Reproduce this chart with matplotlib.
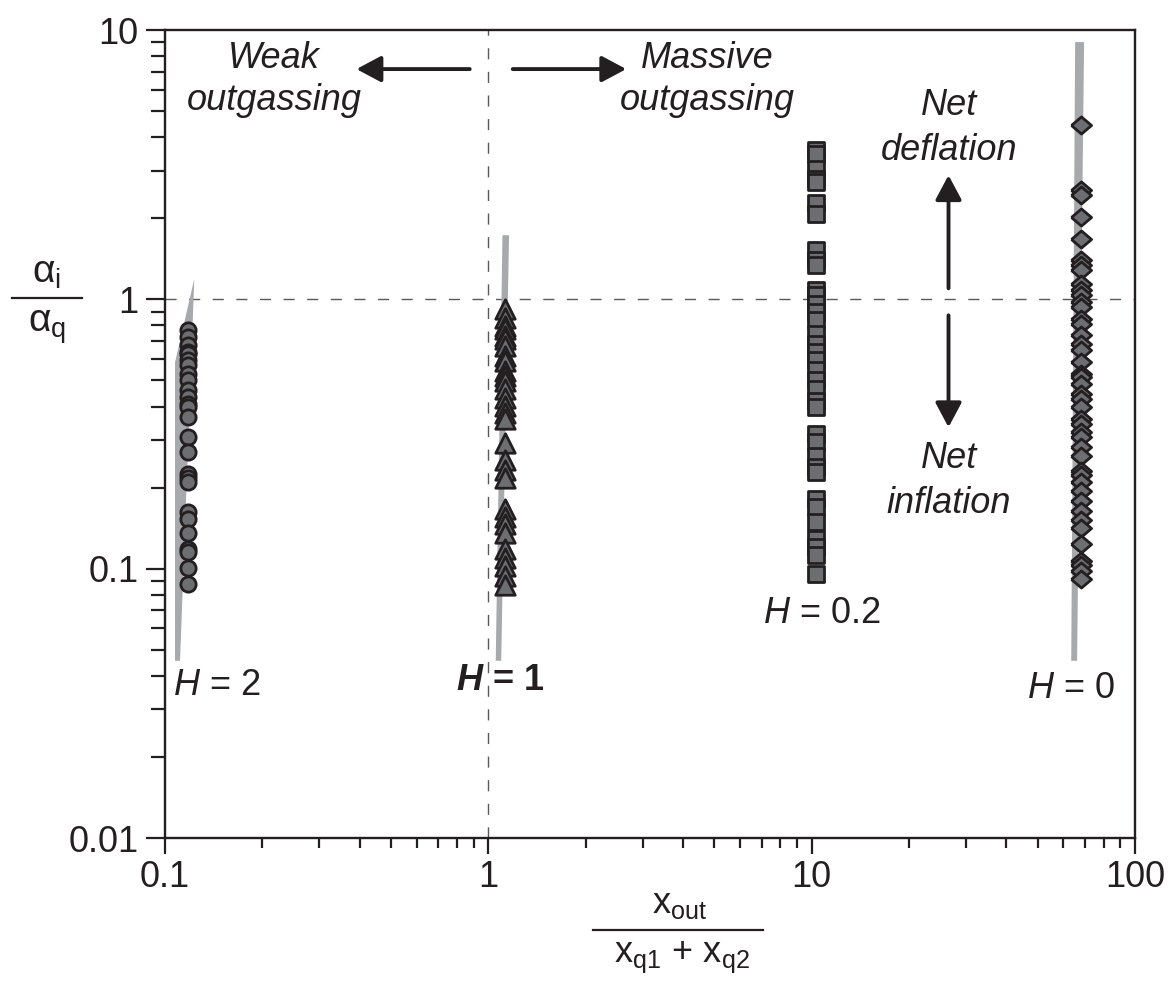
import numpy as np
import matplotlib
matplotlib.use('Agg')
import matplotlib.pyplot as plt
from matplotlib.lines import Line2D
from matplotlib.ticker import FixedLocator, FixedFormatter, LogLocator, NullFormatter

plt.rcParams['font.family'] = ['Liberation Sans', 'DejaVu Sans']
plt.rcParams['mathtext.fontset'] = 'custom'
plt.rcParams['mathtext.rm'] = 'Liberation Sans'
plt.rcParams['mathtext.it'] = 'Liberation Sans:italic'
plt.rcParams['mathtext.bf'] = 'Liberation Sans:bold:italic'

# ---------------- data ----------------
h2_x = 0.118
h2_y = [0.767, 0.724, 0.674, 0.637, 0.628, 0.593, 0.568, 0.530, 0.500, 0.459,
        0.433, 0.409, 0.398, 0.365, 0.308, 0.271, 0.225, 0.218, 0.209, 0.162,
        0.153, 0.136, 0.118, 0.115, 0.101, 0.088]

h1_x = 1.13
h1_y = [0.918, 0.855, 0.796, 0.773, 0.731, 0.710, 0.670, 0.616, 0.590, 0.541,
        0.519, 0.497, 0.463, 0.431, 0.401, 0.379, 0.358, 0.293, 0.254, 0.233,
        0.217, 0.166, 0.156, 0.146, 0.136, 0.118, 0.110, 0.102, 0.094, 0.087]

h02_x = 10.3
h02_y = [3.58, 3.46, 3.06, 2.79, 2.73, 2.27, 2.08, 1.52, 1.40, 1.34,
         1.080, 1.035, 0.964, 0.897, 0.835, 0.746, 0.684, 0.637, 0.593, 0.545,
         0.500, 0.466, 0.421, 0.398, 0.317, 0.295, 0.263, 0.238, 0.228,
         0.182, 0.169, 0.149, 0.129, 0.120, 0.112, 0.0955]

h0_x = 68.0
h0_y = [4.43, 2.54, 2.44, 2.02, 1.68, 1.40, 1.34, 1.28, 1.14, 1.08, 1.035,
        0.977, 0.936, 0.848, 0.812, 0.735, 0.684, 0.646, 0.585, 0.529, 0.514,
        0.486, 0.446, 0.428, 0.398, 0.360, 0.345, 0.321, 0.308, 0.283, 0.263,
        0.231, 0.222, 0.209, 0.195, 0.179, 0.164, 0.151, 0.141, 0.124, 0.107,
        0.103, 0.098, 0.0916]

# uncertainty envelopes (grey bands)
band_h2_x = [0.1074, 0.1232, 0.1113, 0.1074]
band_h2_y = [0.583, 1.19, 0.0455, 0.0455]
band_h1_x = [1.106, 1.159, 1.096, 1.054]
band_h1_y = [1.73, 1.73, 0.0455, 0.0455]
band_h0_x = [65.3, 69.6, 66.2, 63.5]
band_h0_y = [9.02, 9.02, 0.0455, 0.0455]

x_ticks = [0.1, 1, 10, 100]
x_tick_labels = ['0.1', '1', '10', '100']
y_ticks = [0.01, 0.1, 1, 10]
y_tick_labels = ['0.01', '0.1', '1', '10']

# ---------------- figure ----------------
W, H = 1170, 984
fig = plt.figure(figsize=(W / 100, H / 100), dpi=100)
ax = fig.add_axes([165 / W, 1 - 838 / H, (1135 - 165) / W, (838 - 30) / H])
ax.set_xscale('log')
ax.set_yscale('log')
ax.set_xlim(0.1, 100)
ax.set_ylim(0.01, 10)

INK = '#231f20'
FACE = '#6d6e71'
BAND = '#a7a9ac'

for sp in ax.spines.values():
    sp.set_linewidth(1.7)
    sp.set_color(INK)

ax.xaxis.set_major_locator(FixedLocator(x_ticks))
ax.xaxis.set_major_formatter(FixedFormatter(x_tick_labels))
ax.yaxis.set_major_locator(FixedLocator(y_ticks))
ax.yaxis.set_major_formatter(FixedFormatter(y_tick_labels))
ax.xaxis.set_minor_locator(LogLocator(base=10, subs=np.arange(2, 10)))
ax.yaxis.set_minor_locator(LogLocator(base=10, subs=np.arange(2, 10)))
ax.xaxis.set_minor_formatter(NullFormatter())
ax.yaxis.set_minor_formatter(NullFormatter())
ax.tick_params(axis='both', which='both', direction='out', top=False, right=False,
               color=INK, width=1.6, labelsize=26, labelcolor=INK)
ax.tick_params(axis='x', which='major', length=11.5, pad=4)
ax.tick_params(axis='x', which='minor', length=7)
ax.tick_params(axis='y', which='major', length=14, pad=5)
ax.tick_params(axis='y', which='minor', length=10)

# reference dashed lines
ax.axhline(1, color='#58595b', lw=1.0, ls=(0, (8, 9)), zorder=1)
ax.axvline(1, color='#58595b', lw=1.0, ls=(0, (8, 9)), zorder=1)

# bands
ax.fill(band_h2_x, band_h2_y, color=BAND, lw=0, zorder=2)
ax.fill(band_h1_x, band_h1_y, color=BAND, lw=0, zorder=2)
ax.fill(band_h0_x, band_h0_y, color=BAND, lw=0, zorder=2)

diamond = [(-1, 0), (0, 0.85), (1, 0), (0, -0.85), (-1, 0)]
kw = dict(facecolor=FACE, edgecolor=INK, linewidths=2.0, zorder=3)
ax.scatter(np.full(len(h2_y), h2_x), h2_y, s=11 ** 2, marker='o', **kw)
ax.scatter(np.full(len(h1_y), h1_x), h1_y, s=14 ** 2, marker='^', **kw)
ax.scatter(np.full(len(h02_y), h02_x), h02_y, s=11.5 ** 2, marker='s', **kw)
ax.scatter(np.full(len(h0_y), h0_x), h0_y, s=14.5 ** 2, marker=diamond, **kw)

# arrows
ap = dict(arrowstyle='-|>,head_length=0.75,head_width=0.4', color=INK, lw=2.8,
          mutation_scale=20, shrinkA=0, shrinkB=0)
ax.annotate('', xy=(0.391, 7.16), xytext=(0.876, 7.16), arrowprops=ap)
ax.annotate('', xy=(2.67, 7.16), xytext=(1.19, 7.16), arrowprops=ap)
ax.annotate('', xy=(26.5, 2.89), xytext=(26.5, 1.099), arrowprops=ap)
ax.annotate('', xy=(26.5, 0.335), xytext=(26.5, 0.872), arrowprops=ap)


def ft(xp, yp, s, **k):
    k.setdefault('fontsize', 26)
    k.setdefault('color', INK)
    return fig.text(xp / W, 1 - yp / H, s, **k)


it = dict(style='italic', ha='center', va='baseline')
ft(274, 68, 'Weak', **it)
ft(274, 110, 'outgassing', **it)
ft(707, 68, 'Massive', **it)
ft(707, 110, 'outgassing', **it)
ft(949, 115, 'Net', **it)
ft(949, 160, 'deflation', **it)
ft(949, 468, 'Net', **it)
ft(949, 513, 'inflation', **it)

ft(173, 695, r'$\mathit{H}$ = 2', ha='left', va='baseline')
ft(456, 690, r'$\mathbf{H}$ = 1', ha='left', va='baseline', fontweight='bold')
ft(763, 623, r'$\mathit{H}$ = 0.2', ha='left', va='baseline')
ft(1027, 698, r'$\mathit{H}$ = 0', ha='left', va='baseline')

# x label (fraction)
ft(680, 913, r'$\mathrm{x}_{\mathrm{out}}$', ha='center', va='baseline')
fig.add_artist(Line2D([593 / W, 763 / W], [1 - 930 / H, 1 - 930 / H],
                      color=INK, lw=1.6, transform=fig.transFigure))
ft(682, 962, r'$\mathrm{x}_{\mathrm{q1}}$ + $\mathrm{x}_{\mathrm{q2}}$', ha='center', va='baseline')

# y label (fraction)
ft(47, 283, r'$\mathrm{α}_{\mathrm{i}}$', ha='center', va='baseline', fontsize=28)
fig.add_artist(Line2D([12 / W, 82 / W], [1 - 298 / H, 1 - 298 / H],
                      color=INK, lw=1.6, transform=fig.transFigure))
ft(47, 332, r'$\mathrm{α}_{\mathrm{q}}$', ha='center', va='baseline', fontsize=28)

fig.savefig('out.png', dpi=100, facecolor='white')
